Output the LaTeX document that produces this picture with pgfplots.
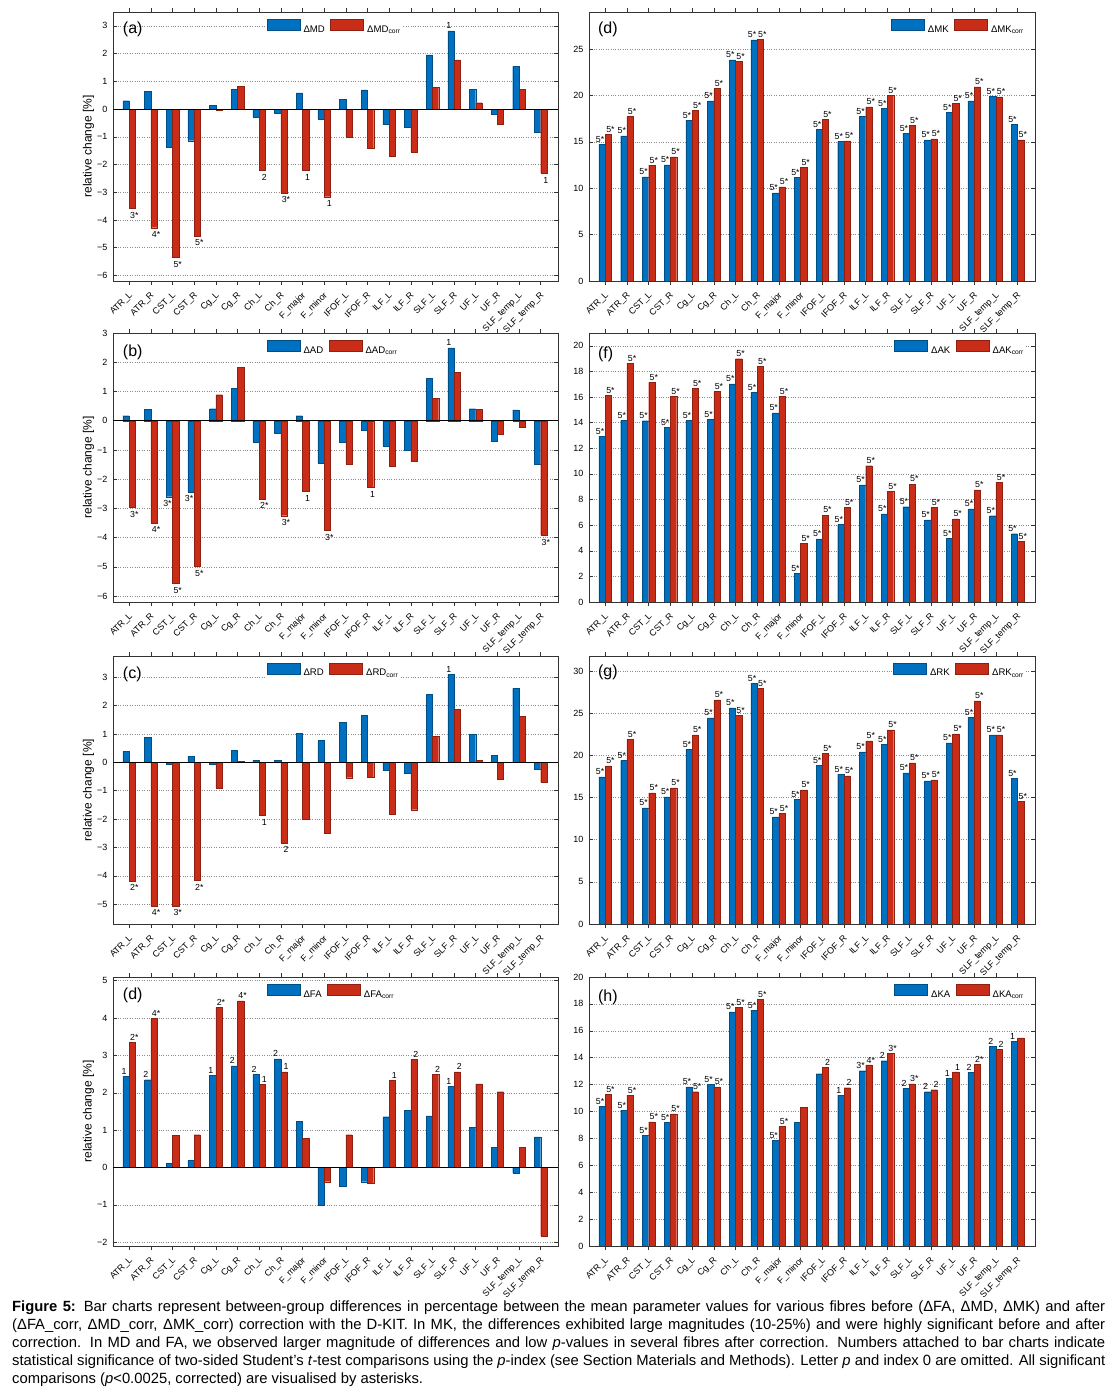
\documentclass[border=0pt]{standalone}
\usepackage{fontspec}
\setmainfont{Liberation Sans}
\usepackage{pgfplots}
\usepackage{pgfplotstable}
\pgfplotsset{compat=1.18}
\definecolor{mblue}{RGB}{0,112,192}
\definecolor{mred}{RGB}{201,45,24}
\newcommand{\tickf}{\fontsize{9}{10}\selectfont}
\newcommand{\annf}{\fontsize{8.8}{10}\selectfont}
\newcommand{\legf}{\fontsize{9.6}{11}\selectfont}
\newcommand{\labf}{\fontsize{12}{14}\selectfont}
\newcommand{\panf}{\fontsize{16}{18}\selectfont}
\newcommand{\capf}{\fontsize{14.8}{18}\selectfont}

\pgfplotstableread{
x b r lb lr
1 0.30 -3.59 {} 3*
2 0.65 -4.28 {} 4*
3 -1.38 -5.35 {} 5*
4 -1.14 -4.57 {} 5*
5 0.13 -0.05 {} {}
6 0.72 0.83 {} {}
7 -0.29 -2.22 {} 2
8 -0.16 -3.02 {} 3*
9 0.58 -2.22 {} 1
10 -0.35 -3.16 {} 1
11 0.35 -1.00 {} {}
12 0.69 -1.41 {} {}
13 -0.56 -1.69 {} {}
14 -0.67 -1.55 {} {}
15 1.95 0.79 {} {}
16 2.82 1.77 1 {}
17 0.72 0.23 {} {}
18 -0.19 -0.54 {} {}
19 1.54 0.71 {} {}
20 -0.82 -2.31 {} 1
}\tMD

\pgfplotstableread{
x b r lb lr
1 0.17 -2.97 {} 3*
2 0.38 -3.49 {} 4*
3 -2.60 -5.57 3* 5*
4 -2.43 -4.98 3* 5*
5 0.41 0.89 {} {}
6 1.11 1.82 {} {}
7 -0.73 -2.67 {} 2*
8 -0.42 -3.25 {} 3*
9 0.17 -2.41 {} 1
10 -1.45 -3.75 {} 3*
11 -0.73 -1.48 {} {}
12 -0.33 -2.27 {} 1
13 -0.86 -1.56 {} {}
14 -1.00 -1.38 {} {}
15 1.44 0.76 {} {}
16 2.49 1.66 1 {}
17 0.41 0.38 {} {}
18 -0.70 -0.46 {} {}
19 0.37 -0.22 {} {}
20 -1.48 -3.91 {} 3*
}\tAD

\pgfplotstableread{
x b r lb lr
1 0.39 -4.18 {} 2*
2 0.88 -5.06 {} 4*
3 -0.08 -5.06 {} 3*
4 0.22 -4.16 {} 2*
5 -0.06 -0.90 {} {}
6 0.42 0.04 {} {}
7 0.08 -1.86 {} 1
8 0.06 -2.84 {} 2
9 1.02 -2.00 {} {}
10 0.77 -2.51 {} {}
11 1.40 -0.54 {} {}
12 1.65 -0.51 {} {}
13 -0.29 -1.84 {} {}
14 -0.39 -1.67 {} {}
15 2.40 0.92 {} {}
16 3.11 1.88 1 {}
17 0.99 0.08 {} {}
18 0.25 -0.61 {} {}
19 2.61 1.63 {} {}
20 -0.24 -0.71 {} {}
}\tRD

\pgfplotstableread{
x b r lb lr
1 2.44 3.35 1 2*
2 2.35 4.00 2 4*
3 0.12 0.86 {} {}
4 0.20 0.88 {} {}
5 2.46 4.29 1 2*
6 2.72 4.46 2 4*
7 2.49 2.22 2 1
8 2.91 2.56 2 1
9 1.24 0.79 {} {}
10 -1.00 -0.38 {} {}
11 -0.50 0.88 {} {}
12 -0.38 -0.41 {} {}
13 1.36 2.33 {} 1
14 1.54 2.89 {} 2
15 1.38 2.50 {} 2
16 2.18 2.56 1 2
17 1.07 2.24 {} {}
18 0.54 2.03 {} {}
19 -0.14 0.54 {} {}
20 0.82 -1.83 {} {}
}\tFA

\pgfplotstableread{
x b r lb lr
1 14.75 15.83 5* 5*
2 15.65 17.73 5* 5*
3 11.22 12.48 5* 5*
4 12.52 13.38 5* 5*
5 17.34 18.42 5* 5*
6 19.42 20.79 5* 5*
7 23.85 23.67 5* 5*
8 26.00 26.08 5* 5*
9 9.50 10.14 5* 5*
10 11.15 12.23 5* 5*
11 16.33 17.41 5* 5*
12 15.04 15.11 5* 5*
13 17.77 18.78 5* 5*
14 18.60 20.00 5* 5*
15 15.94 16.76 5* 5*
16 15.22 15.32 5* 5*
17 18.17 19.14 5* 5*
18 19.42 20.94 5* 5*
19 19.93 19.86 5* 5*
20 16.90 15.22 5* 5*
}\tMK

\pgfplotstableread{
x b r lb lr
1 12.95 16.15 5* 5*
2 14.17 18.65 5* 5*
3 14.15 17.14 5* 5*
4 13.63 16.07 5* 5*
5 14.17 16.70 5* 5*
6 14.25 16.46 5* 5*
7 17.03 18.99 5* 5*
8 16.36 18.39 5* 5*
9 14.77 16.07 5* 5*
10 2.26 4.60 5* 5*
11 4.92 6.79 5* 5*
12 6.06 7.39 5* 5*
13 9.15 10.64 5* 5*
14 6.87 8.63 5* 5*
15 7.44 9.21 5* 5*
16 6.42 7.41 5* 5*
17 4.99 6.48 5* 5*
18 7.26 8.76 5* 5*
19 6.74 9.34 5* 5*
20 5.33 4.73 5* 5*
}\tAK

\pgfplotstableread{
x b r lb lr
1 17.45 18.76 5* 5*
2 19.39 21.88 5* 5*
3 13.77 15.55 5* 5*
4 15.08 16.15 5* 5*
5 20.74 22.44 5* 5*
6 24.46 26.59 5* 5*
7 25.64 24.73 5* 5*
8 28.57 27.94 5* 5*
9 12.70 13.14 5* 5*
10 14.76 15.91 5* 5*
11 18.84 20.22 5* 5*
12 17.77 17.57 5* 5*
13 20.42 21.73 5* 5*
14 21.33 23.03 5* 5*
15 17.93 19.11 5* 5*
16 16.98 17.10 5* 5*
17 21.49 22.56 5* 5*
18 24.54 26.47 5* 5*
19 22.44 22.44 5* 5*
20 17.29 14.52 5* 5*
}\tRK

\pgfplotstableread{
x b r lb lr
1 10.40 11.27 5* 5*
2 10.10 11.22 5* 5*
3 8.21 9.23 5* 5*
4 9.20 9.83 5* 5*
5 11.84 11.47 5* 5*
6 12.01 11.84 5* 5*
7 17.41 17.74 5* 5*
8 17.51 18.33 5* 5*
9 7.86 8.88 5* 5*
10 9.20 10.30 {} {}
11 12.81 13.28 {} 2
12 11.22 11.77 1 2
13 13.03 13.46 3* 4*
14 13.78 14.33 2 3*
15 11.72 12.06 2 3*
16 11.47 11.62 2 2
17 12.49 12.94 1 1
18 12.89 13.53 2 2*
19 14.85 14.63 2 2
20 15.20 15.47 1 {}
}\tKA

\tikzset{panlab/.style={anchor=north west, inner sep=0pt, font=\panf}}

\pgfplotsset{
  legimg/.style={legend image code/.code={\draw[##1] (0pt,-0.8pt) rectangle (33pt,10.2pt);}},
  panel/.style={
    scale only axis, height=269pt,
    xmin=0.25, xmax=20.8,
    xtick={1,...,20},
    xticklabels={ATR\_L,ATR\_R,CST\_L,CST\_R,Cg\_L,Cg\_R,Ch\_L,Ch\_R,F\_major,F\_minor,IFOF\_L,IFOF\_R,ILF\_L,ILF\_R,SLF\_L,SLF\_R,UF\_L,UF\_R,SLF\_temp\_L,SLF\_temp\_R},
    xticklabel style={xshift=-1pt, yshift=-6pt, rotate=45, anchor=north east, inner sep=0pt, font=\tickf},
    yticklabel style={font=\tickf, xshift=-2pt},
    tick align=inside, major tick length=4pt,
    axis line style={black!80, line width=0.6pt},
    every tick/.style={black!80, line width=0.5pt},
    ymajorgrids, major grid style={dotted, black!45, line width=0.5pt},
    ybar=0pt, bar width=0.29,
    nodes near coords, point meta=explicit symbolic,
    visualization depends on={rawy \as \rawy},
    every node near coord/.append style={font=\annf, inner sep=0.8pt, text=black,
      /utils/exec={\ifdim\rawy pt<0pt\gdef\myanc{north}\gdef\myys{-3pt}\else\gdef\myanc{south}\gdef\myys{1pt}\fi},
      anchor=\myanc, yshift=\myys},
    every axis plot post/.append style={legimg},
    legend columns=2,
    legend style={draw=none, fill=white, inner sep=0pt, font=\legf,
      nodes={inner sep=1.5pt},
      /tikz/every odd column/.append style={column sep=2pt},
      /tikz/every even column/.append style={column sep=4pt}},
  },
  leftp/.style={panel, width=445pt, ylabel={relative change [\%]},
    ylabel style={at={(axis description cs:-0.055,0.5)}, anchor=center, font=\labf},
    legend style={at={(0.345,0.944)}, anchor=west}},
  rightp/.style={panel, width=446pt, legend style={at={(0.979,0.944)}, anchor=east}},
  bplot/.style={fill=mblue, draw=mblue!70!black, line width=0.3pt, bar shift=-0.145,
    every node near coord/.append style={xshift=-2pt}},
  rplot/.style={fill=mred, draw=mred!70!black, line width=0.3pt, bar shift=0.145,
    every node near coord/.append style={xshift=2pt}},
}

\begin{document}
\begin{tikzpicture}
\useasboundingbox (0,0) rectangle (1115pt,1390pt);

% (a) MD
\begin{axis}[leftp, at={(113pt,1109pt)}, anchor=south west,
  ymin=-6.2, ymax=3.5, ytick={-6,-5,-4,-3,-2,-1,0,1,2,3},
  yticklabels={−6,−5,−4,−3,−2,−1,0,1,2,3}]
\addplot[bplot] table[x=x,y=b,meta=lb]{\tMD};
\addplot[rplot] table[x=x,y=r,meta=lr]{\tMD};
\legend{ΔMD, ΔMD\textsubscript{corr}}
\draw[black, line width=0.6pt] (axis cs:0.25,0) -- (axis cs:20.8,0);
\node[panlab] at (rel axis cs:0.022,0.963) {(a)};
\end{axis}

% (d) MK
\begin{axis}[rightp, at={(589pt,1109pt)}, anchor=south west,
  ymin=0, ymax=29, ytick={0,5,10,15,20,25},
  yticklabels={0,5,10,15,20,25}]
\addplot[bplot] table[x=x,y=b,meta=lb]{\tMK};
\addplot[rplot] table[x=x,y=r,meta=lr]{\tMK};
\legend{ΔMK, ΔMK\textsubscript{corr}}
\node[panlab] at (rel axis cs:0.02,0.964) {(d)};
\end{axis}

% (b) AD
\begin{axis}[leftp, at={(113pt,788pt)}, anchor=south west,
  ymin=-6.2, ymax=3, ytick={-6,-5,-4,-3,-2,-1,0,1,2,3},
  yticklabels={−6,−5,−4,−3,−2,−1,0,1,2,3}]
\addplot[bplot] table[x=x,y=b,meta=lb]{\tAD};
\addplot[rplot] table[x=x,y=r,meta=lr]{\tAD};
\legend{ΔAD, ΔAD\textsubscript{corr}}
\draw[black, line width=0.6pt] (axis cs:0.25,0) -- (axis cs:20.8,0);
\node[panlab] at (rel axis cs:0.022,0.955) {(b)};
\end{axis}

% (f) AK
\begin{axis}[rightp, at={(589pt,788pt)}, anchor=south west,
  ymin=0, ymax=21, ytick={0,2,4,6,8,10,12,14,16,18,20},
  yticklabels={0,2,4,6,8,10,12,14,16,18,20}]
\addplot[bplot] table[x=x,y=b,meta=lb]{\tAK};
\addplot[rplot] table[x=x,y=r,meta=lr]{\tAK};
\legend{ΔAK, ΔAK\textsubscript{corr}}
\node[panlab] at (rel axis cs:0.02,0.948) {(f)};
\end{axis}

% (c) RD
\begin{axis}[leftp, at={(113pt,466pt)}, anchor=south west, height=268pt,
  ymin=-5.7, ymax=3.75, ytick={-5,-4,-3,-2,-1,0,1,2,3},
  yticklabels={−5,−4,−3,−2,−1,0,1,2,3}]
\addplot[bplot] table[x=x,y=b,meta=lb]{\tRD};
\addplot[rplot] table[x=x,y=r,meta=lr]{\tRD};
\legend{ΔRD, ΔRD\textsubscript{corr}}
\draw[black, line width=0.6pt] (axis cs:0.25,0) -- (axis cs:20.8,0);
\node[panlab] at (rel axis cs:0.022,0.959) {(c)};
\end{axis}

% (g) RK
\begin{axis}[rightp, at={(589pt,466pt)}, anchor=south west, height=268pt,
  ymin=0, ymax=31.8, ytick={0,5,10,15,20,25,30},
  yticklabels={0,5,10,15,20,25,30}]
\addplot[bplot] table[x=x,y=b,meta=lb]{\tRK};
\addplot[rplot] table[x=x,y=r,meta=lr]{\tRK};
\legend{ΔRK, ΔRK\textsubscript{corr}}
\node[panlab] at (rel axis cs:0.02,0.967) {(g)};
\end{axis}

% (d) FA
\begin{axis}[leftp, at={(113pt,144pt)}, anchor=south west,
  ymin=-2.1, ymax=5.1, ytick={-2,-1,0,1,2,3,4,5},
  yticklabels={−2,−1,0,1,2,3,4,5}]
\addplot[bplot] table[x=x,y=b,meta=lb]{\tFA};
\addplot[rplot] table[x=x,y=r,meta=lr]{\tFA};
\legend{ΔFA, ΔFA\textsubscript{corr}}
\draw[black, line width=0.6pt] (axis cs:0.25,0) -- (axis cs:20.8,0);
\node[panlab] at (rel axis cs:0.022,0.96) {(d)};
\end{axis}

% (h) KA
\begin{axis}[rightp, at={(589pt,144pt)}, anchor=south west,
  ymin=0, ymax=20, ytick={0,2,4,6,8,10,12,14,16,18,20},
  yticklabels={0,2,4,6,8,10,12,14,16,18,20}]
\addplot[bplot] table[x=x,y=b,meta=lb]{\tKA};
\addplot[rplot] table[x=x,y=r,meta=lr]{\tKA};
\legend{ΔKA, ΔKA\textsubscript{corr}}
\node[panlab] at (rel axis cs:0.02,0.952) {(h)};
\end{axis}

\node[anchor=base west, inner sep=0pt] at (12pt,78.7pt) {\capf\vtop{\hsize=1093pt\baselineskip=18pt
\hbox to\hsize{\textbf{Figure 5:} Bar charts represent between-group differences in percentage between the mean parameter values for various fibres before (ΔFA, ΔMD, ΔMK) and after}
\hbox to\hsize{(ΔFA\_corr, ΔMD\_corr, ΔMK\_corr) correction with the D-KIT. In MK, the differences exhibited large magnitudes (10-25\%) and were highly significant before and after}
\hbox to\hsize{correction. In MD and FA, we observed larger magnitude of differences and low \textit{p}-values in several fibres after correction. Numbers attached to bar charts indicate}
\hbox to\hsize{statistical significance of two-sided Student’s \textit{t}-test comparisons using the \textit{p}-index (see Section Materials and Methods). Letter \textit{p} and index 0 are omitted. All significant}
\hbox{comparisons (\textit{p}<0.0025, corrected) are visualised by asterisks.}}};
\end{tikzpicture}
\end{document}
